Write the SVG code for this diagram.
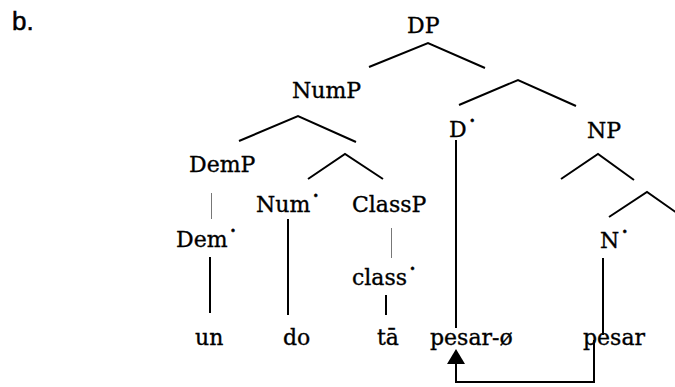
<svg xmlns="http://www.w3.org/2000/svg" width="675" height="387" viewBox="0 0 675 387">
<style>
.t{font-family:"DejaVu Serif","Liberation Serif",serif;font-size:22px;fill:#000;stroke:#000;stroke-width:0.35}
.d{font-weight:bold}
.e{fill:none;stroke:#000;stroke-width:2;stroke-linecap:butt}
.th{fill:none;stroke:#777;stroke-width:1}
</style>
<rect width="675" height="387" fill="#fff"/>
<g id="label-b"><text x="12" y="30" style="font-family:'Liberation Sans',Arial,sans-serif;font-size:26px;fill:#000;stroke:#000;stroke-width:0.5">b.</text></g>
<g id="connectors">
<polyline class="e" points="369,67 428,43 485,68"/>
<polyline class="e" points="459,105 518,80 576,106"/>
<polyline class="e" points="239,141 298,116 356,142"/>
<polyline class="e" points="308,179 345,154 383,179"/>
<polyline class="e" points="561,179 598,154 634,180"/>
<polyline class="e" points="609,217 647,192 677,213"/>
<line class="th" x1="211.5" y1="193" x2="211.5" y2="219"/>
<line class="e" x1="210" y1="257" x2="210" y2="313"/>
<line class="e" x1="288" y1="219" x2="288" y2="315"/>
<line class="th" x1="391.5" y1="228" x2="391.5" y2="258"/>
<line class="e" x1="386" y1="295" x2="386" y2="315"/>
<line class="e" x1="456" y1="140" x2="456" y2="328"/>
<line class="e" x1="603" y1="258" x2="603" y2="335"/>
<polyline class="e" points="594,340 594,382 456,382 456,362"/>
<polygon points="456,349 447,364 465,364" fill="#000"/>
</g>
<g id="DP"><text class="t" x="407" y="33">DP</text></g>
<g id="NumP"><text class="t" x="292" y="98">NumP</text></g>
<g id="Dbar"><text class="t" x="449" y="137">D<tspan class="d">˙</tspan></text></g>
<g id="NP"><text class="t" x="587" y="138">NP</text></g>
<g id="DemP"><text class="t" x="189" y="172">DemP</text></g>
<g id="Numbar"><text class="t" x="256" y="212">Num<tspan class="d">˙</tspan></text></g>
<g id="ClassP"><text class="t" x="352" y="212">ClassP</text></g>
<g id="Dembar"><text class="t" x="176" y="247">Dem<tspan class="d">˙</tspan></text></g>
<g id="Nbar"><text class="t" x="600" y="248">N<tspan class="d">˙</tspan></text></g>
<g id="classbar"><text class="t" x="352" y="285">class<tspan class="d">˙</tspan></text></g>
<g id="un"><text class="t" x="195" y="345">un</text></g>
<g id="do"><text class="t" x="283" y="345">do</text></g>
<g id="ta"><text class="t" x="377" y="345">tā</text></g>
<g id="pesar-o"><text class="t" x="430" y="345">pesar-ø</text></g>
<g id="pesar"><text class="t" x="583" y="345">pesar</text></g>
</svg>
